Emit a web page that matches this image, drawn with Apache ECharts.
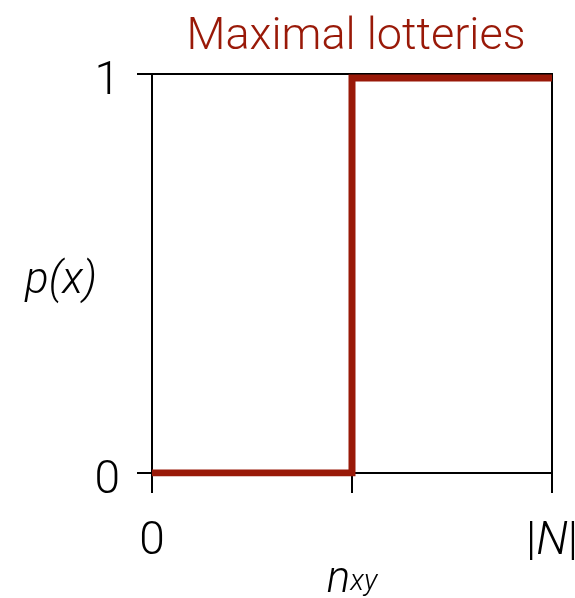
<!DOCTYPE html>
<html>
<head>
<meta charset="utf-8">
<script src="https://cdn.jsdelivr.net/npm/echarts@6/dist/echarts.min.js"></script>
<style>
  html, body { margin: 0; padding: 0; background: #fff; }
  #chart { width: 575px; height: 598px; }
</style>
</head>
<body>
<div id="chart"></div>
<script>
// step of the maximal lottery: 0 below half, ~1 above
var xValues = [0, 0.5, 0.5, 1];
var pValues = [0, 0, 0.99, 0.99];
var xTickLabels = ['0', '', '{b||}{i|N}{b||}'];
var yTickLabels = ['0', '1'];

var red = '#991908';
var font = 'Roboto';

var chart = echarts.init(document.getElementById('chart'));

var option = {
    backgroundColor: '#fff',
    animation: false,
    title: {
        text: 'Maximal lotteries',
        left: 351,
        textAlign: 'center',
        top: 10,
        textStyle: {
            color: red,
            fontFamily: font,
            fontWeight: 300,
            fontSize: 45
        }
    },
    grid: {
        left: 152,
        right: 23,
        top: 74,
        bottom: 125,
        containLabel: false,
        outerBoundsMode: 'none',
        show: true,
        borderColor: '#000',
        borderWidth: 2
    },
    xAxis: {
        type: 'value',
        min: 0,
        max: 1,
        interval: 0.5,
        splitLine: { show: false },
        axisLine: { lineStyle: { color: '#000', width: 2 } },
        axisTick: { length: 20, lineStyle: { color: '#000', width: 2 } },
        axisLabel: {
            margin: 46,
            color: '#000',
            fontFamily: font,
            fontWeight: 300,
            fontSize: 46,
            hideOverlap: false,
            alignMinLabel: 'center',
            alignMaxLabel: 'center',
            formatter: function (v) {
                return xTickLabels[Math.round(v * 2)];
            },
            rich: {
                b: { fontFamily: font, fontWeight: 300, fontSize: 46, color: '#000' },
                i: { fontFamily: font, fontWeight: 300, fontStyle: 'italic', fontSize: 46, color: '#000' }
            }
        },
        name: '{n|n}{s|xy}',
        nameLocation: 'middle',
        nameGap: 86,
        nameMoveOverlap: false,
        nameTextStyle: {
            rich: {
                n: { fontFamily: font, fontWeight: 300, fontStyle: 'italic', fontSize: 44, color: '#000' },
                s: { fontFamily: font, fontWeight: 300, fontStyle: 'italic', fontSize: 29, color: '#000', padding: [0, 0, -3, 0] }
            }
        }
    },
    yAxis: {
        type: 'value',
        min: 0,
        max: 1,
        interval: 1,
        splitLine: { show: false },
        axisLine: { lineStyle: { color: '#000', width: 2 } },
        axisTick: { length: 15, lineStyle: { color: '#000', width: 2 } },
        axisLabel: {
            margin: 32,
            color: '#000',
            fontFamily: font,
            fontWeight: 300,
            fontSize: 46,
            verticalAlign: 'top',
            lineHeight: 16,
            formatter: function (v) {
                return yTickLabels[v];
            }
        },
        name: 'p(x)',
        nameLocation: 'middle',
        nameRotate: 0,
        nameGap: 55,
        nameMoveOverlap: false,
        nameTextStyle: {
            color: '#000',
            fontFamily: font,
            fontWeight: 300,
            fontStyle: 'italic',
            fontSize: 44,
            verticalAlign: 'top',
            lineHeight: 16
        }
    },
    series: [
        {
            type: 'line',
            data: xValues.map(function (x, i) {
                return [x, pValues[i]];
            }),
            showSymbol: false,
            lineStyle: { color: red, width: 7, join: 'miter' },
            z: 3
        }
    ]
};

chart.setOption(option);
</script>
</body>
</html>
